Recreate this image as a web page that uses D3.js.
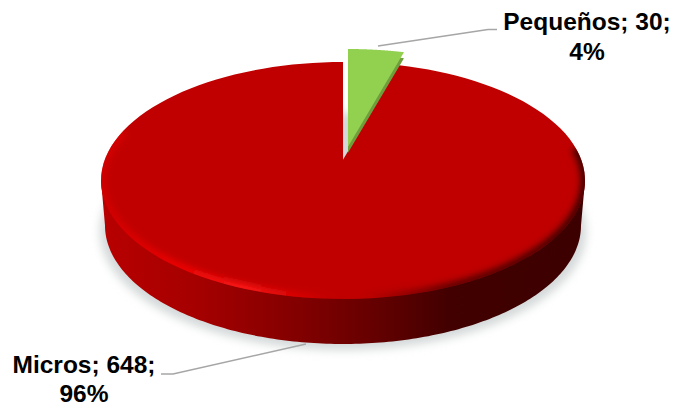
<!DOCTYPE html>
<html><head><meta charset="utf-8">
<script src="https://cdn.jsdelivr.net/npm/d3@7"></script>
<style>html,body{margin:0;padding:0;background:#fff;overflow:hidden}svg{display:block}
text{font-family:"Liberation Sans",Arial,sans-serif;font-weight:bold;fill:#000;font-size:24.5px}</style>
</head><body><svg id="c" width="673" height="402"></svg>
<script>
const categories = ["Pequeños", "Micros"];
const values = [30, 648];
const percents = ["4%", "96%"];
const topColors = ["#92d050", "#c00000"];
const sideColors = ["#6f9e3d", "#8a0000"];

const svg = d3.select("#c");
const defs = svg.append("defs");
const cx = 343, cy = 180.5, rx = 242, ry = 118.5, depth = 45, bottomRx = 238;
const tilt = -0.175, explode = {x: 5, y: -13}, greenDepth = 6;

const sx = d3.scaleLinear().domain([-1, 1]).range([cx - rx, cx + rx]);
const sy = d3.scaleLinear().domain([-1, 1]).range([cy - ry, cy + ry]);
// perspective map of the unit disc: keeps the rim on the ellipse and moves the centre
function project(r, a) {
  const u = r * Math.sin(a), v = -r * Math.cos(a);
  const k = 1 + tilt * v;
  return [sx(u * Math.sqrt(1 - tilt * tilt) / k), sy((v + tilt) / k)];
}
const pie = d3.pie().sort(null).value(d => d)(values);
const line = d3.line();
function wedge(p, dx = 0, dy = 0) {
  const pts = [project(0, 0)];
  d3.range(0, 121).forEach(i => pts.push(project(1, p.startAngle + (p.endAngle - p.startAngle) * i / 120)));
  return line(pts.map(q => [q[0] + dx, q[1] + dy])) + "Z";
}
const arcPts = (a0, a1) => d3.range(0, 181).map(i => project(1, a0 + (a1 - a0) * i / 180));
const deg = Math.PI / 180;

// filters
const blur = (id, s) => defs.append("filter").attr("id", id).attr("x", "-20%").attr("y", "-20%")
  .attr("width", "140%").attr("height", "140%").append("feGaussianBlur").attr("stdDeviation", s);
blur("b6", 5); blur("b3", 3.2); blur("b1", 0.8);

// gradients
function grad(id, x1, x2, stops) {
  const g = defs.append("linearGradient").attr("id", id).attr("gradientUnits", "userSpaceOnUse")
    .attr("x1", x1).attr("x2", x2).attr("y1", 0).attr("y2", 0);
  stops.forEach(s => g.append("stop").attr("offset", s[0]).attr("stop-color", s[1]).attr("stop-opacity", s[2] === undefined ? 1 : s[2]));
}
grad("side", cx - rx, cx + rx, [[0, "#b80000"], [.2, "#a50000"], [.42, "#800000"], [.55, "#680000"], [.72, "#420000"], [1, "#3c0000"]]);
grad("lite", cx - rx, cx, [[0, "#e00000", .5], [.3, "#f00000", .9], [.6, "#ff1a1a", 1], [.85, "#e00000", .6], [1, "#c00000", 0]]);
grad("dark", cx + 20, cx + rx, [[0, "#400000", 0], [.4, "#400000", .75], [1, "#300000", .9]]);

// shadow
const shadowPts = d3.range(0, 361).map(i => [cx + 243 * Math.cos(i * deg), cy + depth + 6 + ry * Math.sin(i * deg)]);
svg.append("path").attr("d", line(shadowPts) + "Z").attr("fill", "#d4d8d8").attr("filter", "url(#b6)");

// red side wall
const lower = d3.range(0, 181).map(i => [cx - bottomRx * Math.cos(i * deg), cy + depth + ry * Math.sin(i * deg)]);
svg.append("path").attr("d", line([[cx - rx, cy], ...lower, [cx + rx, cy]]) + "Z").attr("fill", "url(#side)");

// clip for top face
defs.append("clipPath").attr("id", "topClip").append("path").attr("d", line(arcPts(0, 2 * Math.PI)) + "Z");

// red top
const micro = pie[1], peq = pie[0];
svg.append("path").attr("d", wedge(micro)).attr("fill", topColors[1]);

// bevels
const bevel = svg.append("g").attr("clip-path", "url(#topClip)");
bevel.append("path").attr("d", line(arcPts(176 * deg, 285 * deg))).attr("fill", "none")
  .attr("stroke", "url(#lite)").attr("stroke-width", 10).attr("filter", "url(#b3)");
bevel.append("path").attr("d", line(arcPts(84 * deg, 180 * deg))).attr("fill", "none")
  .attr("stroke", "url(#dark)").attr("stroke-width", 9).attr("filter", "url(#b3)");

// exploded slice
svg.append("path").attr("d", wedge(peq, explode.x, explode.y + greenDepth)).attr("fill", sideColors[0]);
svg.append("path").attr("d", wedge(peq, explode.x, explode.y)).attr("fill", topColors[0]);

// leader lines
const leaders = [
  [[378, 46], [488, 29.5], [497, 29.5]],
  [[306, 344], [173, 374], [161, 374]]
];
svg.selectAll("path.leader").data(leaders).join("path").attr("class", "leader")
  .attr("d", d => line(d)).attr("fill", "none").attr("stroke", "#a6a6a6").attr("stroke-width", 1.5);

// labels
const labelPos = [[587, 30, 60], [84, 373, 402]];
categories.forEach((c, i) => {
  svg.append("text").attr("x", labelPos[i][0]).attr("y", labelPos[i][1]).attr("text-anchor", "middle")
    .text(`${c}; ${values[i]};`);
  svg.append("text").attr("x", labelPos[i][0]).attr("y", labelPos[i][2]).attr("text-anchor", "middle")
    .text(percents[i]);
});
</script></body></html>
